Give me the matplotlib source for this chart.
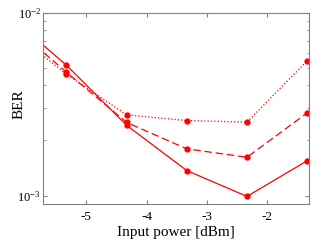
import matplotlib
matplotlib.use('Agg')
import matplotlib.pyplot as plt

plt.rcParams['font.family'] = ['Liberation Serif', 'DejaVu Serif']
plt.rcParams['mathtext.fontset'] = 'custom'
plt.rcParams['mathtext.rm'] = 'Liberation Serif'
plt.rcParams['mathtext.it'] = 'Liberation Serif:italic'
plt.rcParams['mathtext.bf'] = 'Liberation Serif:bold'

# input power [dBm]; first point sits on the left edge (no marker)
power = [-5.7, -5.33, -4.33, -3.33, -2.33, -1.33]
ber_solid = [6.56e-3, 5.15e-3, 2.42e-3, 1.37e-3, 0.99e-3, 1.55e-3]
ber_dashed = [6.0e-3, 4.72e-3, 2.51e-3, 1.80e-3, 1.62e-3, 2.83e-3]
ber_dotted = [5.74e-3, 4.6e-3, 2.76e-3, 2.57e-3, 2.52e-3, 5.45e-3]

xticks = [-5, -4, -3, -2]

fig = plt.figure(figsize=(3.32, 2.5), dpi=100)
ax = fig.add_axes([43/332, 1 - 204/250, 266/332, 191.5/250])

for y, ls in [(ber_solid, '-'), (ber_dashed, (0, (6, 3))), (ber_dotted, ':')]:
    ax.plot(power, y, color='red', linestyle=ls, lw=0.9,
            marker='o', ms=3.5, markevery=[1, 2, 3, 4, 5])

ax.set_yscale('log')
ax.set_xlim(-5.72, -1.3)
ax.set_ylim(9e-4, 1e-2)
ax.set_xticks(xticks)
ax.set_xticklabels([str(t) for t in xticks])
ax.tick_params(which='both', direction='in', top=True, right=True,
               color='gray', labelsize=9.5)
ax.tick_params(which='major', length=3)
ax.tick_params(which='minor', length=1.8)
ax.tick_params(axis='x', pad=5)
ax.tick_params(axis='y', pad=1.5, labelsize=9)
for s in ax.spines.values():
    s.set_color('gray')

ax.set_xlabel('Input power [dBm]', fontsize=11, labelpad=2)
ax.set_ylabel('BER', fontsize=11)
ax.yaxis.set_label_coords(-(43 - 26) / 266, 0.52)

fig.savefig('out.png', dpi=100)
